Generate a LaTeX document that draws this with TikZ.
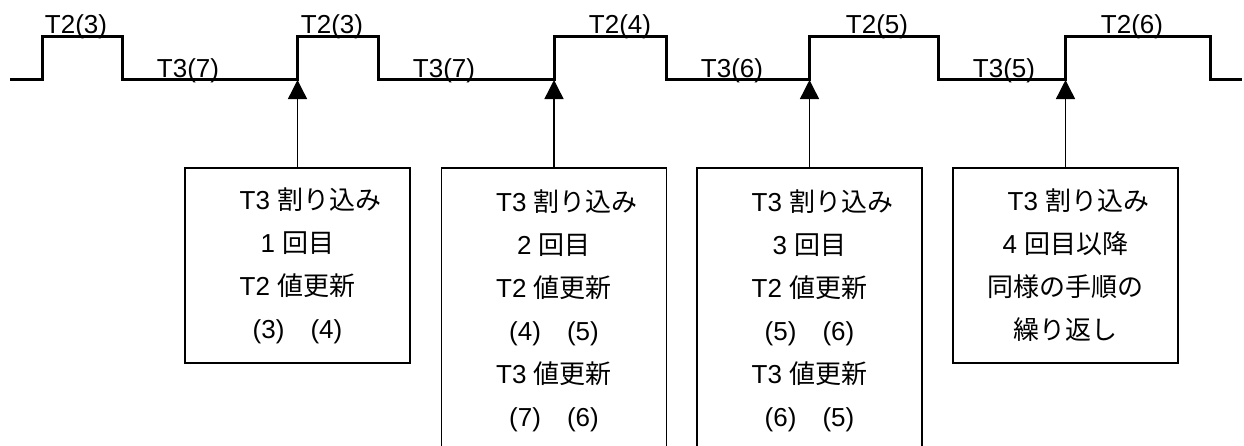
\documentclass[tikz,border=0pt]{standalone}
\usepackage{fontspec}
\setmainfont{Liberation Sans}
\newfontfamily\cjk{Noto Sans CJK JP}
\usetikzlibrary{arrows.meta}
\newcommand\J[1]{{\cjk #1}}
\begin{document}
\begin{tikzpicture}[x=1pt,y=-1pt,
  wave/.style={line width=3pt, line join=miter},
  lbl/.style={anchor=base, inner sep=0pt, font=\fontsize{26}{30}\selectfont},
  box/.style={draw, line width=1.8pt, minimum width=225pt, anchor=north,
    align=center, inner sep=0pt, font=\fontsize{26}{43}\selectfont},
  irq/.style={line width=1.4pt, -{Triangle[length=19pt,width=19pt]}}]
\useasboundingbox (0,0) rectangle (1244,445);
\clip (0,0) rectangle (1244,445);
% waveform
\coordinate (w0) at (10,79);
\coordinate (r1) at (297.5,79);
\coordinate (r2) at (554,79);
\coordinate (r3) at (809.5,79);
\coordinate (r4) at (1065.5,79);
\draw[wave] (w0) -- (42,79) -- (42,36) -- (122,36) -- (122,79)
  -- (r1) -- (297.5,36) -- (378,36) -- (378,79)
  -- (r2) -- (554,36) -- (666,36) -- (666,79)
  -- (r3) -- (809.5,36) -- (938,36) -- (938,79)
  -- (r4) -- (1065.5,36) -- (1210,36) -- (1210,79) -- (1242,79);
% labels
\node[lbl] (h1) at (76,33) {T2(3)};
\node[lbl] (l1) at (188,77) {T3(7)};
\node[lbl] (h2) at (332,33) {T2(3)};
\node[lbl] (l2) at (444,77) {T3(7)};
\node[lbl] (h3) at (620,33) {T2(4)};
\node[lbl] (l3) at (732,77) {T3(6)};
\node[lbl] (h4) at (877,33) {T2(5)};
\node[lbl] (l4) at (1004,77) {T3(5)};
\node[lbl] (h5) at (1132,33) {T2(6)};
% boxes
\node[box, minimum height=195pt] (b1) at (297.5,167)
  {\hspace*{26pt}T3 \J{割り込み}\\1 \J{回目}\\T2 \J{値更新}\\(3)\J{　}(4)};
\node[box, minimum height=286pt] (b2) at (554,167)
  {\hspace*{26pt}T3 \J{割り込み}\\2 \J{回目}\\T2 \J{値更新}\\(4)\J{　}(5)\\T3 \J{値更新}\\(7)\J{　}(6)};
\node[box, minimum height=286pt] (b3) at (809.5,167)
  {\hspace*{26pt}T3 \J{割り込み}\\3 \J{回目}\\T2 \J{値更新}\\(5)\J{　}(6)\\T3 \J{値更新}\\(6)\J{　}(5)};
\node[box, minimum height=195pt] (b4) at (1065.5,167)
  {\hspace*{26pt}T3 \J{割り込み}\\4 \J{回目以降}\\\J{同様の手順の}\\\J{繰り返し}};
% interrupt arrows
\draw[irq] (b1.north) -- ([yshift=-1pt]r1);
\draw[irq] (b2.north) -- ([yshift=-1pt]r2);
\draw[irq] (b3.north) -- ([yshift=-1pt]r3);
\draw[irq] (b4.north) -- ([yshift=-1pt]r4);
\end{tikzpicture}
\end{document}
